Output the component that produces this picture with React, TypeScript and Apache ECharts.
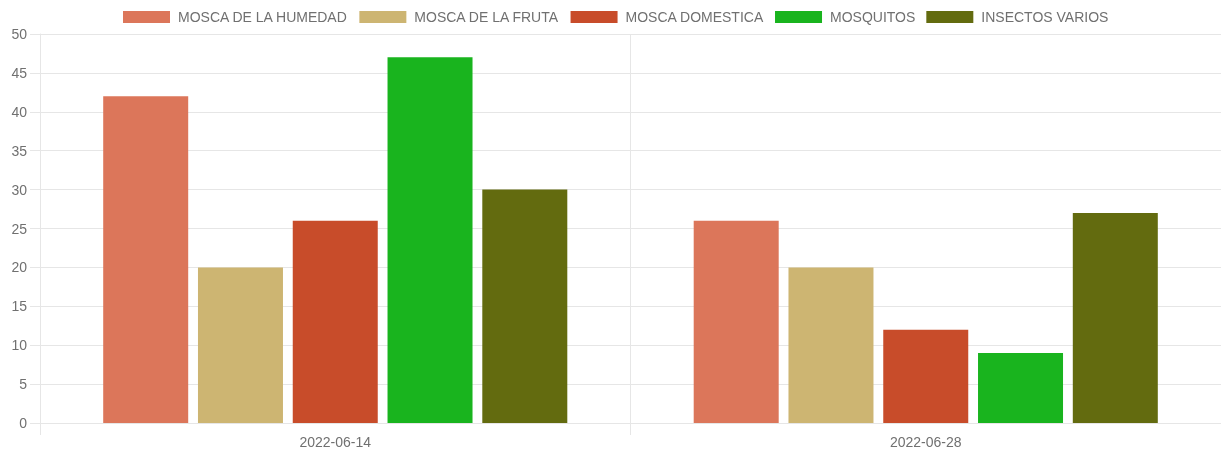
import React, { useEffect, useRef } from "react";
import * as echarts from "echarts";

const categories = ["2022-06-14", "2022-06-28"];
const seriesNames = ["MOSCA DE LA HUMEDAD", "MOSCA DE LA FRUTA", "MOSCA DOMESTICA", "MOSQUITOS", "INSECTOS VARIOS"];
const humedad = [42, 26];
const fruta = [20, 20];
const domestica = [26, 12];
const mosquitos = [47, 9];
const varios = [30, 27];
const colors = ["#dc765a", "#cdb572", "#c84c2a", "#19b41e", "#636b0f"];

export default function App() {
  const ref = useRef<HTMLDivElement>(null);
  useEffect(() => {
    if (!ref.current) return;
    const chart = echarts.init(ref.current, undefined, { renderer: "svg" });
    const values = [humedad, fruta, domestica, mosquitos, varios];
    const gridColor = "#e6e6e6";
    chart.setOption({
      animation: false,
      textStyle: { fontFamily: "Liberation Sans, Arial, sans-serif" },
      legend: {
        top: 10,
        left: 123,
        padding: 0,
        icon: "rect",
        itemWidth: 47,
        itemHeight: 12,
        itemGap: 11,
        textStyle: { fontSize: 14, color: "#707070", padding: [0, 0, 0, 3] },
        data: seriesNames,
      },
      grid: { left: 40, right: 0, top: 34, bottom: 30, containLabel: false },
      xAxis: {
        type: "category",
        data: categories,
        axisLine: { show: true, lineStyle: { color: gridColor } },
        axisTick: { show: true, length: 12, lineStyle: { color: gridColor } },
        splitLine: { show: true, lineStyle: { color: gridColor } },
        axisLabel: { color: "#707070", fontSize: 14, margin: 12 },
      },
      yAxis: {
        type: "value",
        min: 0,
        max: 50,
        interval: 5,
        axisLine: { show: true, lineStyle: { color: gridColor } },
        axisTick: { show: true, length: 10, lineStyle: { color: gridColor } },
        splitLine: { show: true, lineStyle: { color: gridColor } },
        axisLabel: { color: "#707070", fontSize: 14, margin: 13 },
      },
      series: seriesNames.map((name, i) => ({
        name,
        type: "bar",
        data: values[i],
        barWidth: 85,
        barGap: "11.5%",
        itemStyle: { color: colors[i] },
      })),
    });
    return () => chart.dispose();
  }, []);
  return <div ref={ref} style={{ position: "fixed", left: 0, top: 0, width: 1221, height: 453 }} />;
}
